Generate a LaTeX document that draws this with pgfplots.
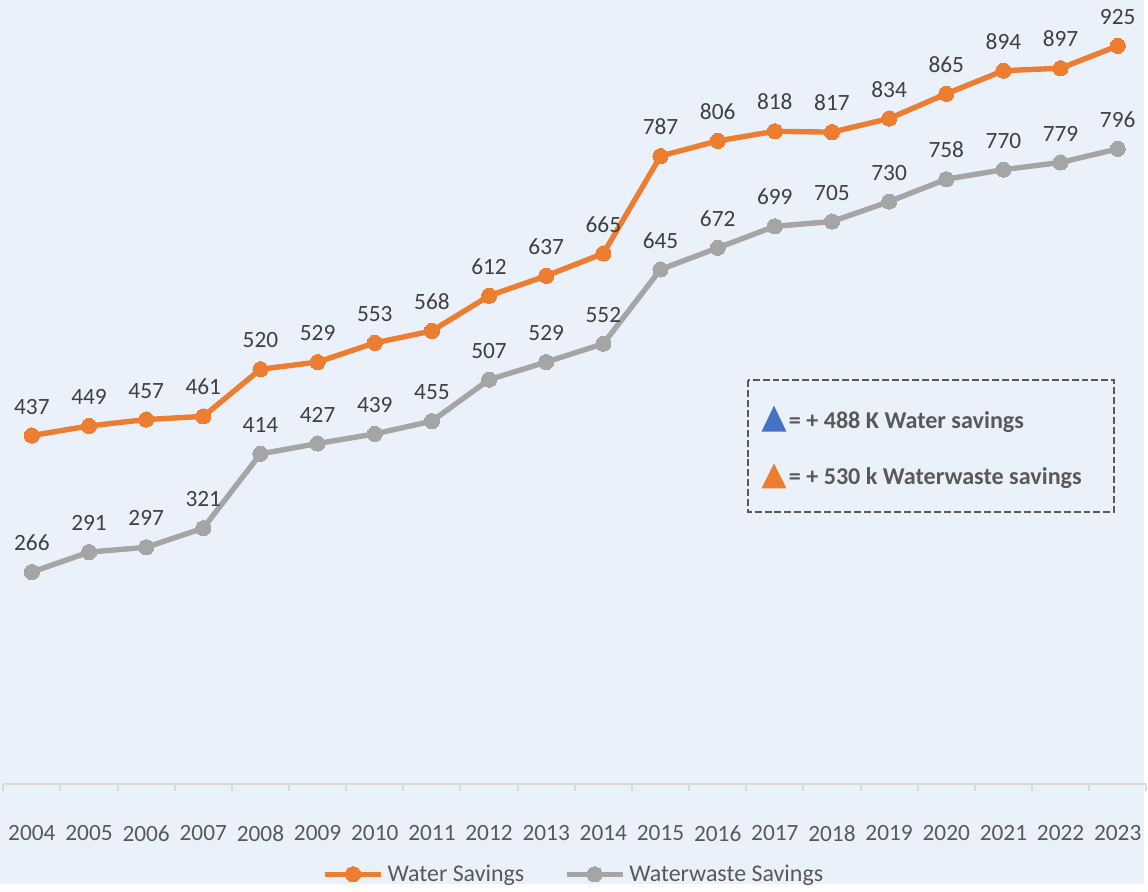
\documentclass[border=0pt]{standalone}
\usepackage{pgfplots}
\pgfplotsset{compat=1.18}
\usepackage{fontspec}
\setmainfont{Carlito}
\definecolor{bg}{HTML}{EAF1FA}
\definecolor{c1}{HTML}{ED7D31}
\definecolor{c2}{HTML}{A5A5A5}
\definecolor{lab}{HTML}{404040}
\definecolor{tickc}{HTML}{595959}
\definecolor{axl}{HTML}{D9D9D9}
\definecolor{blu}{HTML}{4472C4}
\newcommand{\fs}{\fontsize{11.7}{13.5}\selectfont}
\begin{document}
\begin{tikzpicture}
\begin{scope}[x=0.5pt,y=0.5pt]
\path[use as bounding box] (0,0) rectangle (1148,887);
\fill[bg] (0,0) rectangle (1148,887);
\end{scope}
\begin{axis}[
 at={(1.65pt,50pt)}, anchor=south west,
 scale only axis, width=573.35pt, height=393.5pt,
 xmin=-0.5, xmax=19.5, ymin=0, ymax=982.5,
 axis x line*=bottom, hide y axis,
 x axis line style={draw=axl, line width=1pt, -},
 xtick={0,...,19},
 xticklabels={2004,2005,2006,2007,2008,2009,2010,2011,2012,2013,2014,2015,2016,2017,2018,2019,2020,2021,2022,2023},
 major tick length=0pt,
 minor xtick={-0.5,0.5,...,19.5},
 minor tick length=3.5pt, tick align=outside,
 minor tick style={draw=axl, line width=1pt},
 xticklabel style={font=\fs, text=tickc, yshift=-17pt},
 clip=false,
 nodes near coords,
 nodes near coords style={font=\fs, text=lab, anchor=base, inner sep=0pt, yshift=10.75pt},
 /pgf/number format/assume math mode=true,
 legend style={at={(0.5,-0.1145)}, anchor=center, draw=none, fill=none, font=\fontsize{12}{14}\selectfont, text=tickc,
   /tikz/every even column/.append style={column sep=18pt}},
 legend columns=2,
 legend image code/.code={\draw[mark repeat=2,mark phase=2,#1] plot coordinates {(0pt,0pt) (14pt,0pt) (28pt,0pt)};},
]
\addplot[c1, line width=2.7pt, line join=round, mark=*, mark size=3.8pt, mark options={fill=c1, draw=c1, line width=0pt}]
 coordinates {(0,437)(1,449)(2,457)(3,461)(4,520)(5,529)(6,553)(7,568)(8,612)(9,637)(10,665)(11,787)(12,806)(13,818)(14,817)(15,834)(16,865)(17,894)(18,897)(19,925)};
\addlegendentry{Water Savings}
\addplot[c2, line width=2.7pt, line join=round, mark=*, mark size=3.8pt, mark options={fill=c2, draw=c2, line width=0pt}]
 coordinates {(0,266)(1,291)(2,297)(3,321)(4,414)(5,427)(6,439)(7,455)(8,507)(9,529)(10,552)(11,645)(12,672)(13,699)(14,705)(15,730)(16,758)(17,770)(18,779)(19,796)};
\addlegendentry{Waterwaste Savings}
\end{axis}
\begin{scope}[x=0.5pt,y=0.5pt]
\draw[tickc, line width=1pt, dash pattern=on 3.5pt off 1.5pt] (750,506) rectangle (1118,373);
\fill[blu] (764,454) -- (789,454) -- (776.5,480) -- cycle;
\fill[c1] (764,397) -- (789,397) -- (776.5,422) -- cycle;
\node[anchor=west, font=\bfseries\fontsize{12.1}{14}\selectfont, text=tickc, inner sep=0pt] at (791,464) {= + 488 K Water savings};
\node[anchor=west, font=\bfseries\fontsize{12.1}{14}\selectfont, text=tickc, inner sep=0pt] at (791,407) {= + 530 k Waterwaste savings};
\end{scope}
\end{tikzpicture}
\end{document}
